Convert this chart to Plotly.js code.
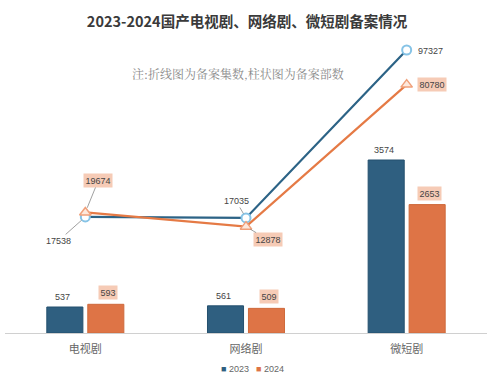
<!DOCTYPE html>
<html><head><meta charset="utf-8">
<script src="https://cdn.plot.ly/plotly-3.0.1.min.js"></script>
<style>html,body{margin:0;padding:0;background:#fff}#c{width:500px;height:382px}</style>
</head><body><div id="c"></div>
<script>
const categories = ['电视剧', '网络剧', '微短剧'];
const years = ['2023', '2024'];
const bars2023 = [537, 561, 3574];
const bars2024 = [593, 509, 2653];
const eps2023 = [17538, 17035, 97327];
const eps2024 = [19674, 12878, 80780];

const blue = '#2f5f80', orange = '#de7446';
const blueLine = '#2c6386', orangeLine = '#e57a45';
const lblFont = {family: 'Liberation Sans, Arial, sans-serif', size: 9, color: '#444'};

const traces = [
  {type: 'bar', name: years[0], x: categories, y: bars2023, marker: {color: blue, line: {color: '#24506e', width: 1}}, hoverinfo: 'skip'},
  {type: 'bar', name: years[1], x: categories, y: bars2024, marker: {color: orange, line: {color: '#cf6a3c', width: 1}}, hoverinfo: 'skip'},
  {type: 'scatter', mode: 'lines+markers', x: categories, y: eps2023, yaxis: 'y2', showlegend: false,
   line: {color: blueLine, width: 2.2}, marker: {symbol: 'circle', size: 9, color: '#ffffff', line: {color: '#86c3e6', width: 2}}},
  {type: 'scatter', mode: 'lines+markers', x: categories, y: eps2024, yaxis: 'y2', showlegend: false,
   line: {color: orangeLine, width: 2.2}, marker: {symbol: 'triangle-up', size: 10, color: '#fde8dc', line: {color: '#f0a07a', width: 1.5}}}
];

const ann = [];
bars2023.forEach((v, i) => ann.push({x: categories[i], y: v, xref: 'x', yref: 'y', text: String(v), showarrow: false,
  xshift: -23, yanchor: 'bottom', yshift: 3, font: lblFont}));
bars2024.forEach((v, i) => ann.push({x: categories[i], y: v, xref: 'x', yref: 'y', text: String(v), showarrow: false,
  xshift: 23, yanchor: 'bottom', yshift: 4, font: lblFont, bgcolor: '#f6cbb6', borderpad: 1.5}));
const lineLbl2023 = [{ax: -27, ay: 24, arrow: true}, {ax: -10, ay: -17, arrow: true}, {ax: 24, ay: 1, arrow: false}];
const lineLbl2024 = [{ax: 13, ay: -32, arrow: true}, {ax: 22, ay: 13, arrow: true}, {ax: 25, ay: 0, arrow: false}];
eps2023.forEach((v, i) => {
  const o = lineLbl2023[i];
  ann.push({x: categories[i], y: v, xref: 'x', yref: 'y2', text: String(v), font: lblFont,
    showarrow: o.arrow, arrowhead: 0, arrowwidth: 0.8, arrowcolor: '#888', ax: o.arrow ? o.ax : 0, ay: o.arrow ? o.ay : 0,
    xshift: o.arrow ? 0 : o.ax, yshift: o.arrow ? 0 : -o.ay, standoff: 5});
});
eps2024.forEach((v, i) => {
  const o = lineLbl2024[i];
  ann.push({x: categories[i], y: v, xref: 'x', yref: 'y2', text: String(v), font: lblFont, bgcolor: '#f6cbb6', borderpad: 1.5,
    showarrow: o.arrow, arrowhead: 0, arrowwidth: 0.8, arrowcolor: '#888', ax: o.arrow ? o.ax : 0, ay: o.arrow ? o.ay : 0,
    xshift: o.arrow ? 0 : o.ax, yshift: o.arrow ? 0 : -o.ay, standoff: 5});
});
ann.push({xref: 'paper', yref: 'paper', x: 0.483, y: 0.887, yanchor: 'middle', text: '注:折线图为备案集数,柱状图为备案部数', showarrow: false,
  font: {family: 'Noto Serif CJK SC, Noto Sans CJK SC, serif', size: 12, color: '#8a8a8a'}});
const legendColors = [blue, orange];
years.forEach((yr, i) => ann.push({xref: 'paper', yref: 'paper', x: 0.478 + i * 0.072, xanchor: 'center', y: -0.123, yanchor: 'middle', showarrow: false,
  text: '<span style="color:' + legendColors[i] + '">■</span> ' + yr,
  font: {family: 'Liberation Sans, Arial, sans-serif', size: 9, color: '#666'}}));

const layout = {
  width: 500, height: 382,
  margin: {l: 5, r: 13, t: 40, b: 49},
  paper_bgcolor: '#ffffff', plot_bgcolor: '#ffffff',
  title: {text: '<b>2023-2024国产电视剧、网络剧、微短剧备案情况</b>', x: 0.494, xanchor: 'center', y: 0.942, yanchor: 'middle',
    font: {family: 'Noto Sans CJK SC, sans-serif', size: 14.5, color: '#3a3a3a'}},
  barmode: 'group', bargap: 0.49, bargroupgap: 0.12,
  xaxis: {type: 'category', range: [-0.5, 2.5], showgrid: false, zeroline: false, showline: true, linecolor: '#d0d0d0', linewidth: 1,
    ticks: '', ticklabelstandoff: 6, tickfont: {family: 'Noto Sans CJK SC, sans-serif', size: 11, color: '#666'}, fixedrange: true},
  yaxis: {range: [0, 6053], visible: false, showgrid: false, zeroline: false, fixedrange: true},
  yaxis2: {range: [-37954, 102103], overlaying: 'y', side: 'right', visible: false, showgrid: false, zeroline: false, fixedrange: true},
  showlegend: false,
  annotations: ann
};
Plotly.newPlot('c', traces, layout, {displayModeBar: false, staticPlot: true});
</script></body></html>
